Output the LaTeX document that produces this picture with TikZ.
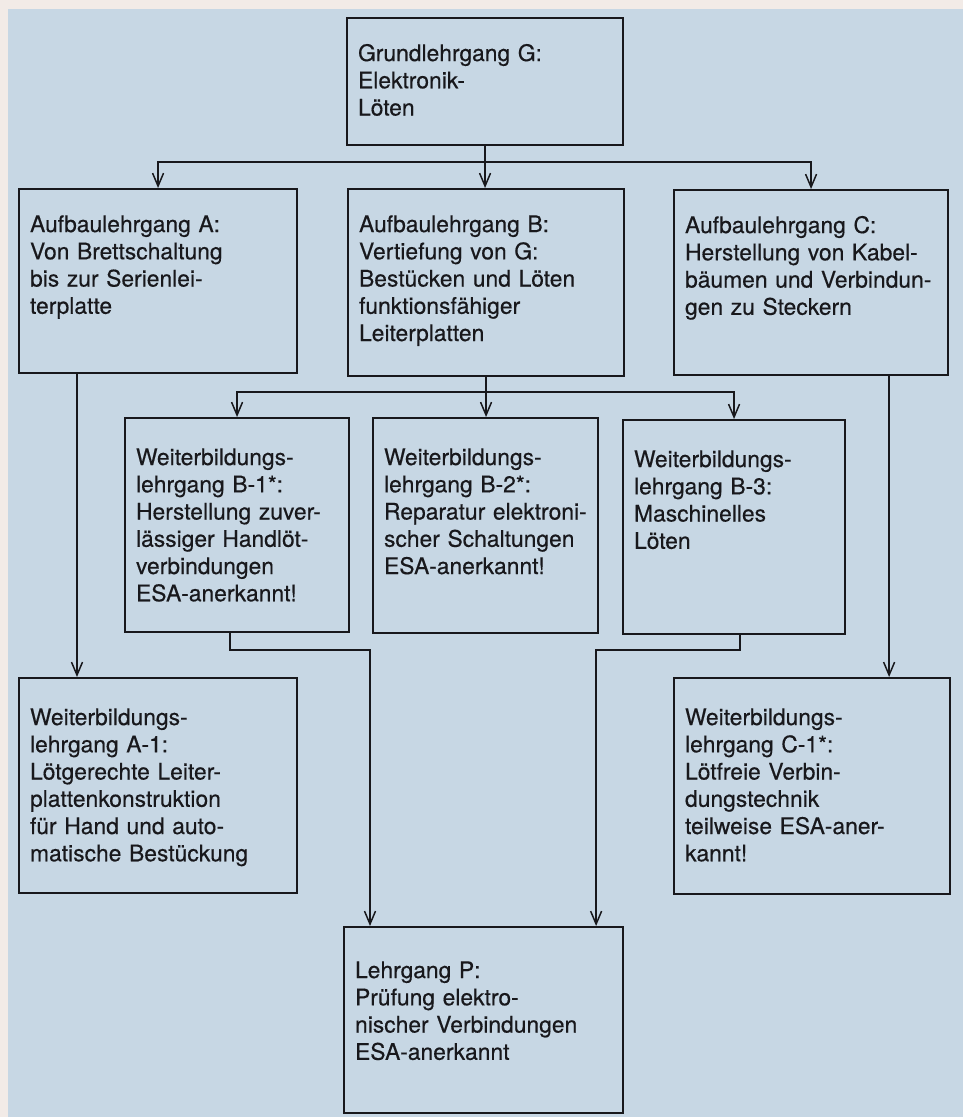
\documentclass[tikz,border=0pt]{standalone}
\usepackage{fontspec}
\setmainfont[FakeBold=0.4]{TeX Gyre Heros}
\usetikzlibrary{arrows.meta}
\usetikzlibrary{calc}
\definecolor{papier}{RGB}{242,235,231}
\definecolor{grund}{RGB}{199,215,228}
\definecolor{tinte}{RGB}{24,24,28}
\tikzset{
	%	kurs: width of text, height above first baseline, depth below it
	kurs/.style n args={3}{draw=tinte, text=tinte, line width=1.2pt, anchor=north west, align=left,
		inner xsep=0.22cm, inner ysep=0pt, text width=#1cm, text height=#2cm, text depth=#3cm,
		font=\fontsize{13}{15.5}\selectfont},
	link/.style={-{Straight Barb[length=0.26cm,width=0.22cm]}, draw=tinte, line width=0.85pt}
}
\begin{document}
\begin{tikzpicture}
	\useasboundingbox (0,0) rectangle (19.26,-22.34);
	\fill[papier] (0,0) rectangle (19.26,-22.34);
	\fill[grund] (0.16,-0.18) rectangle (19.26,-22.34);
	
	\node[kurs={5.08}{0.86}{1.68}] (G) at (6.92,-0.34) {Grundlehrgang G:\\Elektronik-\\Löten};
	
	\node[kurs={5.12}{0.86}{2.82}] (A) at (0.36,-3.76) {Aufbaulehrgang A:\\Von Brettschaltung\\bis zur Serienlei-\\terplatte};
	\node[kurs={5.08}{0.86}{2.88}] (B) at (6.94,-3.76) {Aufbaulehrgang B:\\Vertiefung von G:\\Bestücken und Löten\\funktionsfähiger\\Leiterplatten};
	\node[kurs={5.04}{0.86}{2.84}] (C) at (13.46,-3.78) {Aufbaulehrgang C:\\Herstellung von Kabel-\\bäumen und Verbindun-\\gen zu Steckern};
	
	\node[kurs={4.04}{0.94}{3.34}] (B1) at (2.48,-8.34) {Weiterbildungs-\\lehrgang B-1*:\\Herstellung zuver-\\lässiger Handlöt-\\verbindungen\\ESA-anerkannt!};
	\node[kurs={4.06}{0.94}{3.36}] (B2) at (7.44,-8.34) {Weiterbildungs-\\lehrgang B-2*:\\Reparatur elektroni-\\scher Schaltungen\\ESA-anerkannt!};
	\node[kurs={4.00}{0.94}{3.34}] (B3) at (12.44,-8.38) {Weiterbildungs-\\lehrgang B-3:\\Maschinelles\\Löten};
	
	\node[kurs={5.12}{0.94}{3.36}] (A1) at (0.36,-13.54) {Weiterbildungs-\\lehrgang A-1:\\Lötgerechte Leiter-\\plattenkonstruktion\\für Hand und auto-\\matische Bestückung};
	\node[kurs={5.08}{0.94}{3.38}] (C1) at (13.46,-13.54) {Weiterbildungs-\\lehrgang C-1*:\\Lötfreie Verbin-\\dungstechnik\\teilweise ESA-aner-\\kannt!};
	
	\node[kurs={5.14}{1.02}{2.70}] (P) at (6.86,-18.52) {Lehrgang P:\\Prüfung elektro-\\nischer Verbindungen\\ESA-anerkannt};
	
	\draw[link] (G.south) -- (G.south |- B.north);
	\draw[link] (G.south) -- ++(0,-0.32) -| (A.north);
	\draw[link] (G.south) -- ++(0,-0.32) -| (C.north);
	
	\draw[link] (B.south) -- (B.south |- B2.north);
	\draw[link] (B.south) -- ++(0,-0.3) -| (B1.north);
	\draw[link] (B.south) -- ++(0,-0.3) -| (B3.north);
	
	\draw[link] ([xshift=1.18cm]A.south west) -- ([xshift=1.18cm]A.south west |- A1.north);
	\draw[link] ([xshift=-1.2cm]C.south east) -- ([xshift=-1.2cm]C.south east |- C1.north);
	
	\draw[link] ([xshift=-0.14cm]B1.south) -- ++(0,-0.34) -| ([xshift=0.54cm]P.north west);
	\draw[link] ([xshift=0.12cm]B3.south) -- ++(0,-0.3) -| ([xshift=-0.56cm]P.north east);
\end{tikzpicture}
\end{document}
